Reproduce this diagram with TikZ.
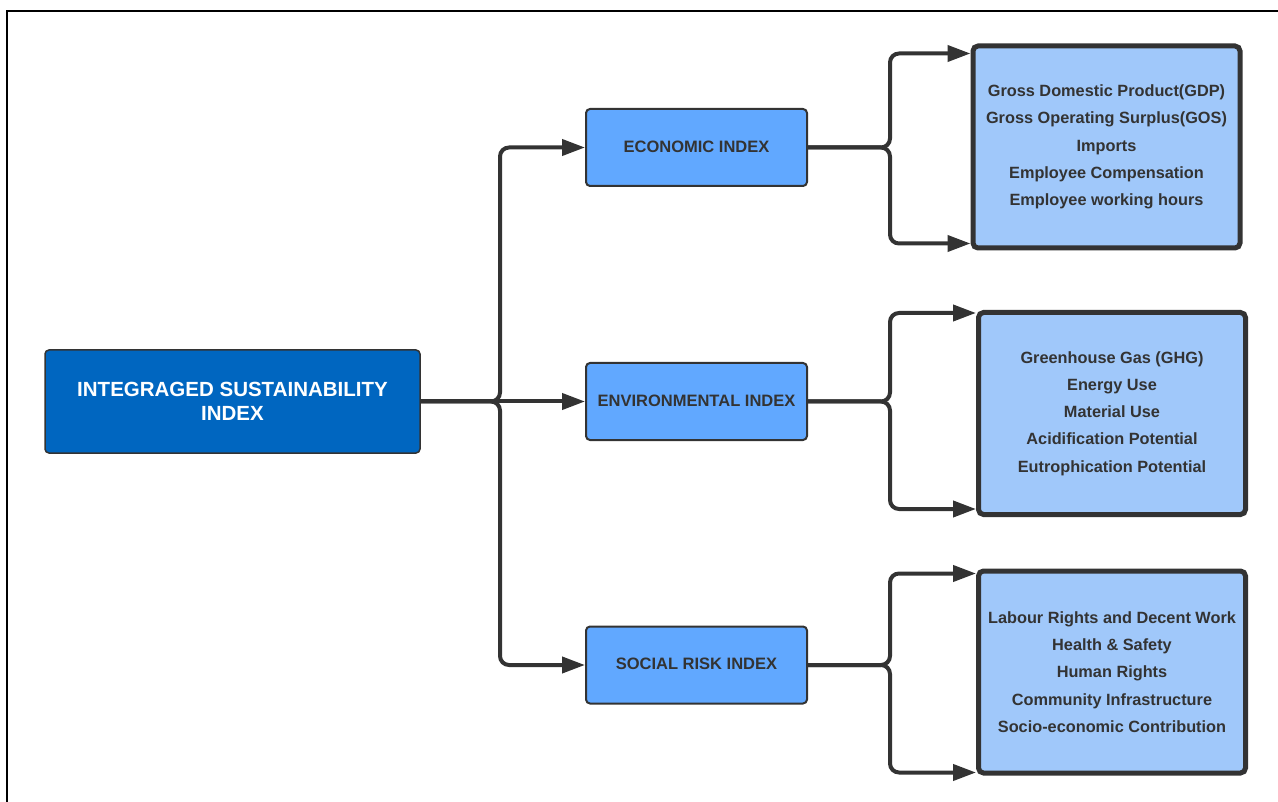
\documentclass[tikz,border=0pt]{standalone}
\usepackage{fontspec}
\setmainfont{Liberation Sans}
\usetikzlibrary{arrows.meta}
\definecolor{darkblue}{HTML}{0066C0}
\definecolor{midblue}{HTML}{61A8FF}
\definecolor{lightblue}{HTML}{A0C8FA}
\definecolor{ink}{HTML}{333333}
\begin{document}
\begin{tikzpicture}[x=1pt,y=-1pt,
    mainbox/.style={draw=ink,line width=1.5pt,rounded corners=4pt,fill=darkblue,text=white,font=\bfseries\fontsize{20.5}{23.5}\selectfont,align=center,minimum width=375pt,minimum height=103pt},
    indexbox/.style={draw=ink,line width=2pt,rounded corners=4pt,fill=midblue,text=ink,font=\bfseries\fontsize{16.5}{19}\selectfont,minimum width=221pt,minimum height=77pt},
    listbox/.style={draw=ink,line width=5pt,rounded corners=5pt,fill=lightblue,text=ink,font=\bfseries\fontsize{16.3}{27.2}\selectfont,align=center,minimum width=267pt,minimum height=202pt},
    link/.style={draw=ink,line width=4pt,rounded corners=9pt,-{Triangle[length=23pt,width=16pt]}}]
        \useasboundingbox (0,0) rectangle (1278,802);
        \draw[line width=2pt] (7,802) -- (7,11) -- (1278,11);

        \node[mainbox] (isi) at (232.5,401.5) {INTEGRAGED SUSTAINABILITY\\INDEX};
        \node[indexbox] (econ) at (696.5,147.5) {\raisebox{2pt}{ECONOMIC INDEX}};
        \node[indexbox] (env) at (696.5,401.5) {\raisebox{2pt}{ENVIRONMENTAL INDEX}};
        \node[indexbox] (soc) at (696.5,665) {\raisebox{2pt}{SOCIAL RISK INDEX}};

        \node[listbox] (econlist) at (1106.5,147) {Gross Domestic Product(GDP)\\Gross Operating Surplus(GOS)\\Imports\\Employee Compensation\\Employee working hours};
        \node[listbox] (envlist) at (1112,413.5) {Greenhouse Gas (GHG)\\Energy Use\\Material Use\\Acidification Potential\\Eutrophication Potential};
        \node[listbox] (soclist) at (1112,672) {Labour Rights and Decent Work\\Health \& Safety\\Human Rights\\Community Infrastructure\\Socio-economic Contribution};

        \draw[link] (isi.east) -- (500,401.5) |- (econ.west);
        \draw[link] (isi.east) -- (env.west);
        \draw[link] (isi.east) -- (500,401.5) |- (soc.west);

        \draw[link] (econ.east) -- (890,147.5) |- ([yshift=-10pt]econlist.north west);
        \draw[link] (econ.east) -- (890,147.5) |- ([yshift=7pt]econlist.south west);
        \draw[link] (env.east) -- (890,401.5) |- ([yshift=-3pt]envlist.north west);
        \draw[link] (env.east) -- (890,401.5) |- ([yshift=8pt]envlist.south west);
        \draw[link] (soc.east) -- (890,665) |- ([yshift=-5pt]soclist.north west);
        \draw[link] (soc.east) -- (890,665) |- ([yshift=3pt]soclist.south west);
      \end{tikzpicture}
\end{document}
